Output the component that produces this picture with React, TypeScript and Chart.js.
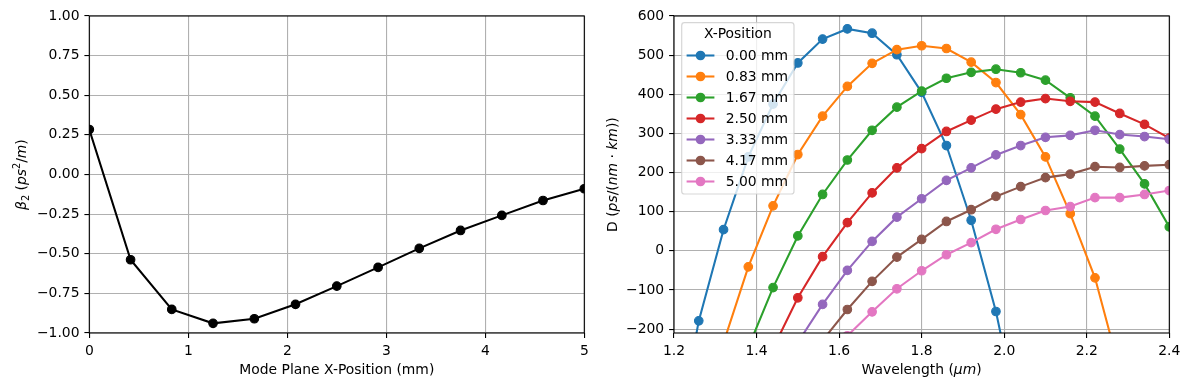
import React, { useEffect, useRef } from 'react';
import { Chart, registerables } from 'chart.js';

Chart.register(...registerables);

const FONT = "'DejaVu Sans', sans-serif";
const FS = 13.9;

// ---------- Left chart data ----------
const X_POSITIONS_MM = [0, 0.417, 0.833, 1.25, 1.667, 2.083, 2.5, 2.917, 3.333, 3.75, 4.167, 4.583, 5.0];
const BETA2 = [0.284, -0.538, -0.851, -0.939, -0.910, -0.819, -0.704, -0.586, -0.466, -0.353, -0.258, -0.164, -0.090];
const LEFT_X_TICKS = [0, 1, 2, 3, 4, 5];
const LEFT_Y_TICKS = [-1, -0.75, -0.5, -0.25, 0, 0.25, 0.5, 0.75, 1];

// ---------- Right chart data ----------
const WAVELENGTHS = [1.20, 1.26, 1.32, 1.38, 1.44, 1.50, 1.56, 1.62, 1.68, 1.74, 1.80, 1.86, 1.92, 1.98, 2.04, 2.10, 2.16, 2.22, 2.28, 2.34, 2.40];
const SERIES_LABELS = ['0.00 mm', '0.83 mm', '1.67 mm', '2.50 mm', '3.33 mm', '4.17 mm', '5.00 mm'];
const D_000 = [-520, -179, 54, 240, 375, 480, 541, 567, 556, 501, 405, 269, 78, -155, -455, null, null, null, null, null, null];
const D_083 = [null, null, -235, -41, 115, 246, 344, 420, 479, 514, 524, 517, 482, 430, 348, 240, 95, -69, -305, null, null];
const D_167 = [null, null, null, -247, -94, 38, 144, 232, 308, 367, 408, 441, 456, 464, 455, 436, 391, 344, 260, 171, 61];
const D_250 = [null, null, null, null, -249, -120, -15, 72, 148, 212, 261, 305, 334, 362, 380, 389, 382, 380, 351, 323, 288];
const D_333 = [null, null, null, null, null, -234, -137, -50, 24, 86, 133, 180, 212, 245, 269, 290, 295, 308, 297, 292, 285];
const D_417 = [null, null, null, null, null, null, -229, -150, -78, -16, 29, 75, 105, 139, 164, 187, 196, 215, 213, 217, 220];
const D_500 = [null, null, null, null, null, null, null, -217, -156, -97, -51, -10, 21, 55, 80, 103, 113, 136, 136, 144, 154];
const SERIES_VALUES = [D_000, D_083, D_167, D_250, D_333, D_417, D_500];
const SERIES_COLORS = ['#1f77b4', '#ff7f0e', '#2ca02c', '#d62728', '#9467bd', '#8c564b', '#e377c2'];
const RIGHT_X_TICKS = [1.2, 1.4, 1.6, 1.8, 2.0, 2.2, 2.4];
const RIGHT_Y_TICKS = [-200, -100, 0, 100, 200, 300, 400, 500, 600];
const LEGEND_TITLE = 'X-Position';

type Seg = { t: string; i?: boolean; s?: 'sub' | 'sup' };

const LEFT_X_TITLE: Seg[] = [{ t: 'Mode Plane X-Position (mm)' }];
const LEFT_Y_TITLE: Seg[] = [
  { t: 'β', i: true }, { t: '2', s: 'sub' }, { t: ' (' }, { t: 'ps', i: true }, { t: '2', s: 'sup' }, { t: '/' }, { t: 'm', i: true }, { t: ')' },
];
const RIGHT_X_TITLE: Seg[] = [{ t: 'Wavelength (' }, { t: 'μm', i: true }, { t: ')' }];
const RIGHT_Y_TITLE: Seg[] = [
  { t: 'D (' }, { t: 'ps', i: true }, { t: '/(' }, { t: 'nm', i: true }, { t: ' · ' }, { t: 'km', i: true }, { t: '))' },
];

const minus = (s: string) => s.replace('-', '\u2212');

function segFont(seg: Seg) {
  const size = seg.s ? FS * 0.7 : FS;
  return `${seg.i ? 'italic ' : ''}${size}px ${FONT}`;
}

function drawRich(ctx: CanvasRenderingContext2D, segs: Seg[], x: number, y: number, rot: boolean) {
  ctx.save();
  ctx.translate(x, y);
  if (rot) ctx.rotate(-Math.PI / 2);
  ctx.textBaseline = 'alphabetic';
  ctx.textAlign = 'left';
  ctx.fillStyle = '#000';
  let w = 0;
  for (const s of segs) {
    ctx.font = segFont(s);
    w += ctx.measureText(s.t).width;
  }
  let cx = -w / 2;
  const base = FS * 0.36;
  for (const s of segs) {
    ctx.font = segFont(s);
    const dy = s.s === 'sub' ? FS * 0.22 : s.s === 'sup' ? -FS * 0.42 : 0;
    ctx.fillText(s.t, cx, base + dy);
    cx += ctx.measureText(s.t).width;
  }
  ctx.restore();
}

function axis(min: number, max: number, ticks: number[], fmt: (v: number) => string, isY: boolean, fit: number) {
  return {
    type: 'linear' as const,
    min,
    max,
    afterBuildTicks: (s: any) => {
      s.ticks = ticks.map((v) => ({ value: v }));
    },
    afterFit: (s: any) => {
      if (isY) s.width = fit;
      else s.height = fit;
    },
    ticks: {
      callback: (v: any) => fmt(Number(v)),
      color: '#000',
      padding: 4.9,
      font: { family: FONT, size: FS },
      autoSkip: false,
      maxRotation: 0,
      minRotation: 0,
    },
    grid: {
      color: '#b0b0b0',
      lineWidth: 1.1,
      drawTicks: true,
      tickLength: 4.9,
      tickColor: '#000',
      tickWidth: 1.1,
    },
    border: { display: false },
    title: { display: false },
  };
}

function framePlugin(titles: { segs: Seg[]; x: number; y: number; rot: boolean }[], legend: boolean) {
  return {
    id: 'frame',
    afterDatasetsDraw(chart: any) {
      const { ctx, chartArea: a } = chart;
      ctx.save();
      ctx.strokeStyle = '#000';
      ctx.lineWidth = 1.1;
      ctx.strokeRect(a.left, a.top, a.right - a.left, a.bottom - a.top);
      ctx.restore();
    },
    afterDraw(chart: any) {
      const ctx: CanvasRenderingContext2D = chart.ctx;
      for (const t of titles) drawRich(ctx, t.segs, t.x, t.y, t.rot);
      if (!legend) return;
      const bx = 81.7, by = 22.7, bw = 112.3, bh = 171.3, r = 2.8;
      ctx.save();
      ctx.beginPath();
      ctx.moveTo(bx + r, by);
      ctx.lineTo(bx + bw - r, by);
      ctx.arcTo(bx + bw, by, bx + bw, by + r, r);
      ctx.lineTo(bx + bw, by + bh - r);
      ctx.arcTo(bx + bw, by + bh, bx + bw - r, by + bh, r);
      ctx.lineTo(bx + r, by + bh);
      ctx.arcTo(bx, by + bh, bx, by + bh - r, r);
      ctx.lineTo(bx, by + r);
      ctx.arcTo(bx, by, bx + r, by, r);
      ctx.closePath();
      ctx.fillStyle = 'rgba(255,255,255,0.8)';
      ctx.fill();
      ctx.strokeStyle = 'rgba(204,204,204,0.8)';
      ctx.lineWidth = 1.2;
      ctx.stroke();
      ctx.fillStyle = '#000';
      ctx.font = `${FS}px ${FONT}`;
      ctx.textAlign = 'center';
      ctx.textBaseline = 'middle';
      ctx.fillText(LEGEND_TITLE, bx + bw / 2, 34.5);
      SERIES_LABELS.forEach((lab, i) => {
        const y = 55.5 + i * 21;
        ctx.strokeStyle = SERIES_COLORS[i];
        ctx.lineWidth = 2.08;
        ctx.beginPath();
        ctx.moveTo(86.6, y);
        ctx.lineTo(114.4, y);
        ctx.stroke();
        ctx.fillStyle = SERIES_COLORS[i];
        ctx.beginPath();
        ctx.arc(100.5, y, 4.85, 0, Math.PI * 2);
        ctx.fill();
        ctx.fillStyle = '#000';
        ctx.textAlign = 'left';
        ctx.fillText(lab, 125.7, y + 0.5);
      });
      ctx.restore();
    },
  };
}

function lineDataset(xs: number[], ys: (number | null)[], color: string, label: string, order: number) {
  return {
    label,
    data: xs.map((x, i) => ({ x, y: ys[i] })),
    borderColor: color,
    backgroundColor: color,
    pointBackgroundColor: color,
    pointBorderColor: color,
    borderWidth: 2.08,
    pointRadius: 4.3,
    pointBorderWidth: 1.1,
    pointHoverRadius: 4.3,
    tension: 0,
    spanGaps: false,
    clip: 0,
    order,
  };
}

export default function App() {
  const leftRef = useRef<HTMLCanvasElement>(null);
  const rightRef = useRef<HTMLCanvasElement>(null);

  useEffect(() => {
    const common = {
      responsive: false,
      animation: false as const,
      events: [] as any[],
      plugins: { legend: { display: false }, tooltip: { enabled: false } },
    };

    const left = new Chart(leftRef.current!, {
      type: 'line',
      data: { datasets: [lineDataset(X_POSITIONS_MM, BETA2, '#000000', 'beta2', 0) as any] },
      options: {
        ...common,
        layout: { padding: { left: 0, top: 16, right: 15.7, bottom: 0 } },
        scales: {
          x: axis(0, 5, LEFT_X_TICKS, (v) => String(v), false, 57),
          y: axis(-1, 1, LEFT_Y_TICKS, (v) => minus(v.toFixed(2)), true, 89.3),
        },
      } as any,
      plugins: [
        framePlugin(
          [
            { segs: LEFT_X_TITLE, x: 336.8, y: 368.5, rot: false },
            { segs: LEFT_Y_TITLE, x: 21, y: 174.6, rot: true },
          ],
          false,
        ),
      ],
    });

    const right = new Chart(rightRef.current!, {
      type: 'line',
      data: {
        datasets: SERIES_VALUES.map((vals, i) => lineDataset(WAVELENGTHS, vals, SERIES_COLORS[i], SERIES_LABELS[i], -i) as any),
      },
      options: {
        ...common,
        layout: { padding: { left: 0, top: 16, right: 19.7, bottom: 0 } },
        scales: {
          x: axis(1.2, 2.4, RIGHT_X_TICKS, (v) => v.toFixed(1), false, 57),
          y: axis(-210, 600, RIGHT_Y_TICKS, (v) => minus(String(Math.round(v))), true, 74),
        },
      } as any,
      plugins: [
        framePlugin(
          [
            { segs: RIGHT_X_TITLE, x: 321.6, y: 368.5, rot: false },
            { segs: RIGHT_Y_TITLE, x: 12, y: 174.6, rot: true },
          ],
          true,
        ),
      ],
    });

    return () => {
      left.destroy();
      right.destroy();
    };
  }, []);

  return (
    <div style={{ position: 'absolute', left: 0, top: 0, width: 1189, height: 390, background: '#fff' }}>
      <canvas ref={leftRef} width={600} height={390} style={{ position: 'absolute', left: 0, top: 0, width: 600, height: 390 }} />
      <canvas ref={rightRef} width={589} height={390} style={{ position: 'absolute', left: 600, top: 0, width: 589, height: 390 }} />
    </div>
  );
}
